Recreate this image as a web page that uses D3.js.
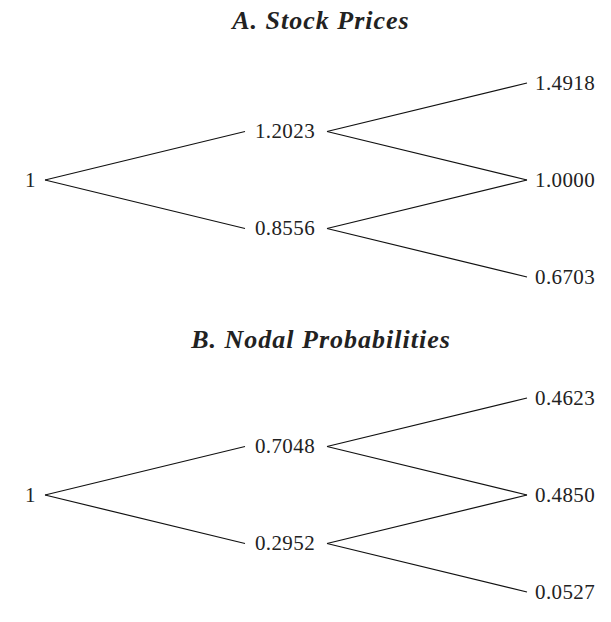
<html>
    <head>
        <meta charset="utf-8">
        <title>Binomial Trees</title>
        <style type="text/css">
            body { margin: 0; background: #fff; }
            .node { font-family: "Liberation Serif", serif; font-size: 21px; letter-spacing: 0.4px; fill: #222; }
            .title { font-family: "Liberation Serif", serif; font-size: 26px; font-weight: bold; font-style: italic; letter-spacing: 1px; fill: #222; }
        </style>
        <script src="https://d3js.org/d3.v7.min.js"></script>
    </head>
    <body>
        <svg width="611" height="622"></svg>
        <script>
        // values per level, top node first
        var titles = ["A. Stock Prices", "B. Nodal Probabilities"];
        var stockPrices = [["1"], ["1.2023", "0.8556"], ["1.4918", "1.0000", "0.6703"]];
        var nodalProbs = [["1"], ["0.7048", "0.2952"], ["0.4623", "0.4850", "0.0527"]];
        var panels = [stockPrices, nodalProbs];

        var svg = d3.select("svg");

        var xScale = d3.scaleLinear().domain([0, 2]).range([41, 531]);
        // gap from node centre to line end, per level
        var pad = [4, 41, 4];
        var panelCentre = [180, 495];
        var titleY = [29, 348];

        panels.forEach(function(levels, p) {
            var yScale = d3.scaleLinear().domain([-2, 2]).range([panelCentre[p] + 97, panelCentre[p] - 97]);
            var g = svg.append("g").attr("class", "panel");

            g.append("text")
                .attr("class", "title")
                .attr("x", 321)
                .attr("y", titleY[p])
                .attr("text-anchor", "middle")
                .text(titles[p]);

            // flatten nodes
            var nodes = [];
            levels.forEach(function(vals, l) {
                vals.forEach(function(v, j) {
                    nodes.push({level: l, j: j, value: v, pos: l - 2 * j});
                });
            });

            var edges = [];
            nodes.forEach(function(n) {
                if (n.level < levels.length - 1) {
                    edges.push({from: n, to: {level: n.level + 1, pos: n.pos + 1}});
                    edges.push({from: n, to: {level: n.level + 1, pos: n.pos - 1}});
                }
            });

            g.selectAll("line")
                .data(edges)
                .enter()
                .append("line")
                    .attr("x1", d => xScale(d.from.level) + pad[d.from.level])
                    .attr("y1", d => yScale(d.from.pos))
                    .attr("x2", d => xScale(d.to.level) - pad[d.to.level])
                    .attr("y2", d => yScale(d.to.pos))
                    .attr("stroke", "#111")
                    .attr("stroke-width", 1.2);

            g.selectAll("text.node")
                .data(nodes)
                .enter()
                .append("text")
                    .attr("class", "node")
                    .attr("x", d => d.level == 0 ? xScale(0) - 5 : d.level == levels.length - 1 ? xScale(d.level) + 4 : xScale(d.level) - 1)
                    .attr("y", d => yScale(d.pos))
                    .attr("dy", "0.33em")
                    .attr("text-anchor", d => d.level == 0 ? "end" : d.level == levels.length - 1 ? "start" : "middle")
                    .text(d => d.value);
        });
        </script>
    </body>
</html>
